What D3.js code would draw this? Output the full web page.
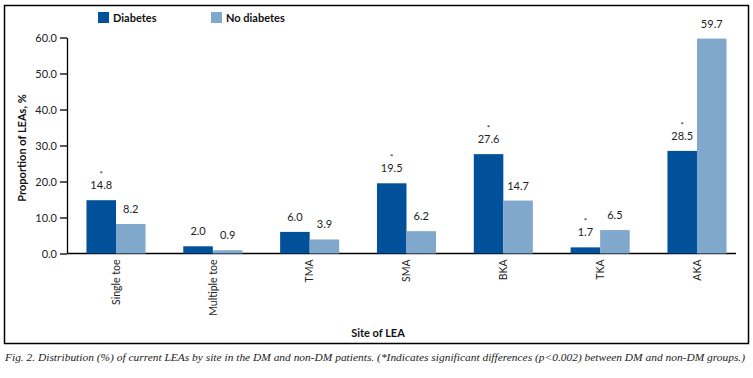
<!DOCTYPE html>
<html>
<head>
<meta charset="utf-8">
<script src="https://cdn.jsdelivr.net/npm/d3@7"></script>
<style>
  body { margin: 0; background: #fff; }
  svg text { font-family: Lato, "Open Sans", sans-serif; }
</style>
</head>
<body>
<div id="chart"></div>
<script>
// Data
const sites = ["Single toe", "Multiple toe", "TMA", "SMA", "BKA", "TKA", "AKA"];
const diabetes = [14.8, 2.0, 6.0, 19.5, 27.6, 1.7, 28.5];
const noDiabetes = [8.2, 0.9, 3.9, 6.2, 14.7, 6.5, 59.7];
const significant = [true, false, false, true, true, true, true];
const seriesNames = ["Diabetes", "No diabetes"];
const yTicks = [0, 10, 20, 30, 40, 50, 60];

const colors = ["#01509a", "#7fa8cc"];

const W = 753, H = 378;

const svg = d3.select("#chart")
    .append("svg")
    .attr("width", W)
    .attr("height", H);

// Frame round the chart
svg.append("rect")
    .attr("x", 4.5)
    .attr("y", 5.5)
    .attr("width", 744)
    .attr("height", 338)
    .attr("fill", "none")
    .attr("stroke", "#000")
    .attr("stroke-width", 1.5);

// Scales
const x0 = d3.scaleBand()
    .domain(sites)
    .range([67.6, 745.4])
    .paddingInner(0.39)
    .paddingOuter(0.195);

const x1 = d3.scaleBand()
    .domain(seriesNames)
    .range([0, x0.bandwidth()]);

const y = d3.scaleLinear()
    .domain([0, 60])
    .range([253.5, 37.5]);

// Y axis
const yAxis = d3.axisLeft(y)
    .tickValues(yTicks)
    .tickFormat(d3.format(".1f"))
    .tickSize(7)
    .tickPadding(3)
    .tickSizeOuter(0);

const gy = svg.append("g")
    .attr("transform", "translate(67,0)")
    .call(yAxis);
gy.select(".domain").attr("stroke-width", 1.3);
gy.selectAll(".tick line").attr("stroke-width", 1.3);
gy.selectAll(".tick text")
    .style("font-size", "11px")
    .attr("fill", "#222");

// X axis line
svg.append("line")
    .attr("x1", 67)
    .attr("x2", 736)
    .attr("y1", y(0))
    .attr("y2", y(0))
    .attr("stroke", "#000")
    .attr("stroke-width", 1.3);

const xAxis = d3.axisBottom(x0)
    .tickSize(0)
    .tickPadding(0);

const gx = svg.append("g")
    .attr("transform", "translate(0," + y(0) + ")")
    .call(xAxis);
gx.select(".domain").remove();
gx.selectAll(".tick text")
    .attr("transform", "rotate(-90)")
    .attr("text-anchor", "end")
    .attr("x", -6)
    .attr("y", 0)
    .attr("dy", "0.35em")
    .style("font-size", "10.5px")
    .attr("fill", "#222");

// Bars
const groups = svg.selectAll(".site")
    .data(sites)
    .enter()
    .append("g")
    .attr("class", "site")
    .attr("transform", d => "translate(" + x0(d) + ",0)");

const rows = sites.map((s, i) => [
    { key: seriesNames[0], value: diabetes[i], star: significant[i] },
    { key: seriesNames[1], value: noDiabetes[i], star: false }
]);

groups.selectAll("rect")
    .data((d, i) => rows[i])
    .enter()
    .append("rect")
    .attr("x", d => x1(d.key))
    .attr("y", d => y(d.value))
    .attr("width", x1.bandwidth())
    .attr("height", d => y(0) - y(d.value))
    .attr("fill", (d, i) => colors[i]);

// Value labels
groups.selectAll(".label")
    .data((d, i) => rows[i])
    .enter()
    .append("text")
    .attr("class", "label")
    .attr("x", d => x1(d.key) + x1.bandwidth() / 2)
    .attr("y", d => y(d.value) - 11)
    .attr("text-anchor", "middle")
    .style("font-size", "11px")
    .attr("fill", "#222")
    .text(d => d.value.toFixed(1));

// Significance stars
groups.selectAll(".star")
    .data((d, i) => rows[i].filter(r => r.star))
    .enter()
    .append("text")
    .attr("class", "star")
    .attr("x", d => x1(d.key) + x1.bandwidth() / 2)
    .attr("y", d => y(d.value) - 23)
    .attr("text-anchor", "middle")
    .style("font-size", "8px")
    .attr("fill", "#222")
    .text("*");

// Legend
const legend = svg.selectAll(".legend")
    .data(seriesNames)
    .enter()
    .append("g")
    .attr("class", "legend")
    .attr("transform", (d, i) => "translate(" + (98 + i * 113) + ",12)");

legend.append("rect")
    .attr("width", 11)
    .attr("height", 11)
    .attr("fill", (d, i) => colors[i]);

legend.append("text")
    .attr("x", 15)
    .attr("y", 10)
    .style("font-size", "11px")
    .style("font-weight", "bold")
    .attr("fill", "#111")
    .text(d => d);

// Axis titles
svg.append("text")
    .attr("transform", "translate(26,148) rotate(-90)")
    .attr("text-anchor", "middle")
    .style("font-size", "11px")
    .style("font-weight", "bold")
    .attr("fill", "#111")
    .text("Proportion of LEAs, %");

svg.append("text")
    .attr("x", 378)
    .attr("y", 337)
    .attr("text-anchor", "middle")
    .style("font-size", "11px")
    .style("font-weight", "bold")
    .attr("fill", "#111")
    .text("Site of LEA");

// Caption
svg.append("text")
    .attr("x", 5)
    .attr("y", 361)
    .style("font-family", "'Liberation Serif', serif")
    .style("font-style", "italic")
    .style("font-size", "11.2px")
    .attr("fill", "#222")
    .attr("textLength", 740)
    .attr("lengthAdjust", "spacingAndGlyphs")
    .text("Fig. 2. Distribution (%) of current LEAs by site in the DM and non-DM patients. (*Indicates significant differences (p<0.002) between DM and non-DM groups.)");
</script>
</body>
</html>
